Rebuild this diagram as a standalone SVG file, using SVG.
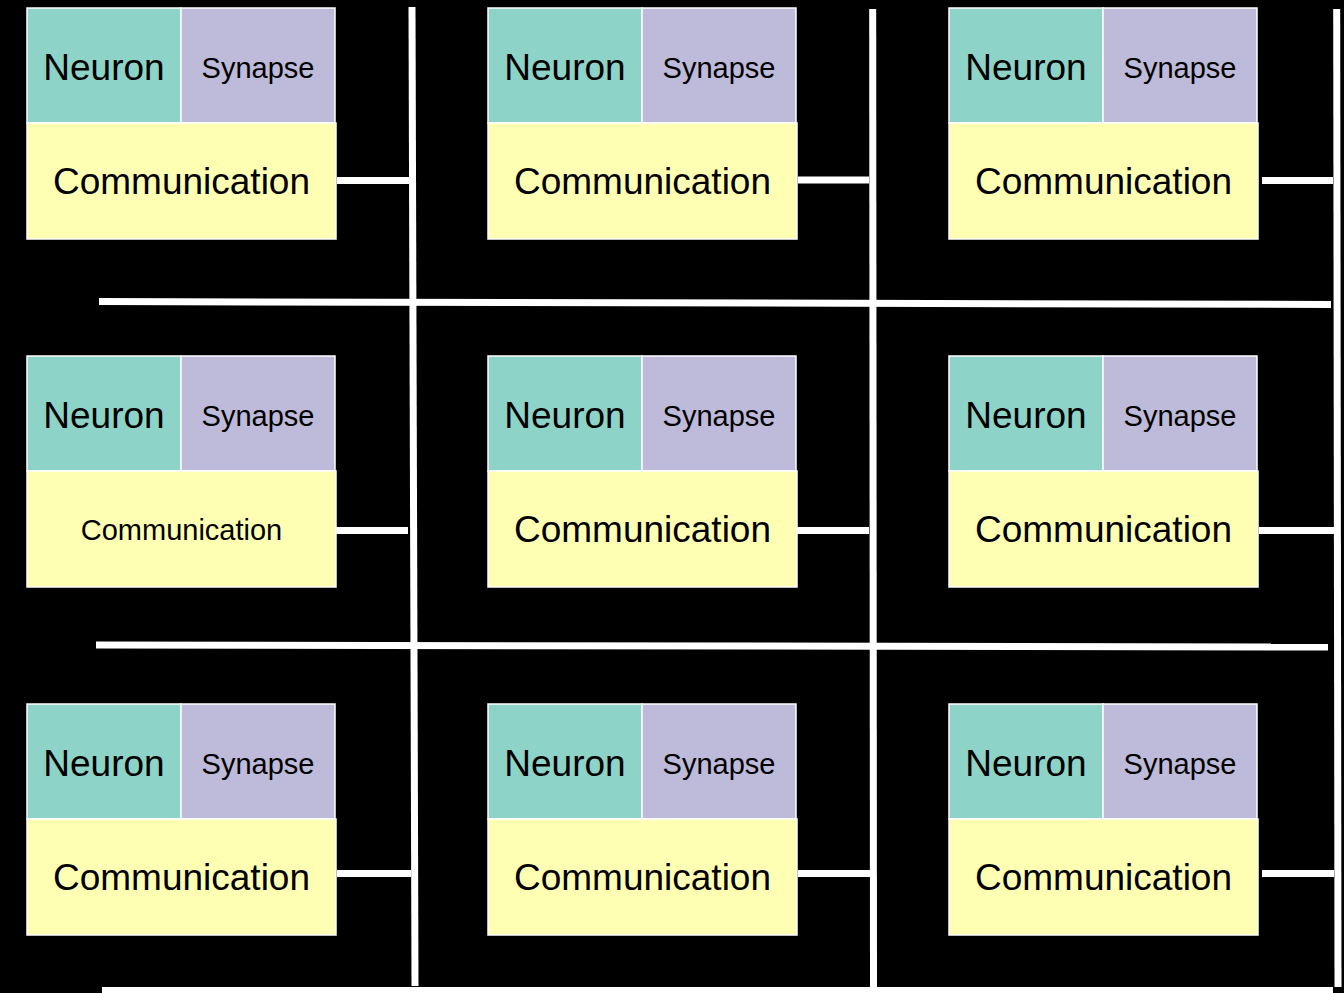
<svg xmlns="http://www.w3.org/2000/svg" width="1344" height="993" viewBox="0 0 1344 993">
  <style>
    .neuron { fill: #8DD3C7; stroke: #ffffff; stroke-width: 1.5; }
    .synapse { fill: #BEBADA; stroke: #ffffff; stroke-width: 1.5; }
    .comm { fill: #FFFFB3; stroke: #ffffff; stroke-width: 1.5; }
    text { font-family: "Liberation Sans", Arial, sans-serif; fill: #000000; text-anchor: middle; }
    .tn { font-size: 37px; }
    .ts { font-size: 29px; }
    .tc { font-size: 37px; }
    .tc-small { font-size: 29px; }
    .wire { stroke: #ffffff; stroke-width: 7; fill: none; stroke-linecap: butt; }
  </style>
  <rect x="0" y="0" width="1344" height="993" fill="#000000"/>

  <!-- bus wires and tile links -->
  <g id="connectors">
    <!-- vertical buses -->
    <line class="wire" x1="412" y1="7" x2="415" y2="986"/>
    <line class="wire" x1="872.7" y1="9" x2="873.5" y2="987"/>
    <line class="wire" x1="1336.7" y1="9" x2="1338" y2="987"/>
    <!-- horizontal buses -->
    <line class="wire" x1="99" y1="301.5" x2="1331" y2="304.5"/>
    <line class="wire" x1="96" y1="645" x2="1328" y2="647"/>
    <line class="wire" x1="102" y1="990.5" x2="1333" y2="990.5"/>
    <!-- tile-to-bus links, row 1 -->
    <line class="wire" x1="337" y1="180.5" x2="409" y2="180.5"/>
    <line class="wire" x1="798" y1="180" x2="869" y2="180"/>
    <line class="wire" x1="1262" y1="180.5" x2="1333" y2="180.5"/>
    <!-- row 2 -->
    <line class="wire" x1="336" y1="530.5" x2="408" y2="530.5"/>
    <line class="wire" x1="797" y1="530.5" x2="869" y2="530.5"/>
    <line class="wire" x1="1259" y1="530.5" x2="1334" y2="530.5"/>
    <!-- row 3 -->
    <line class="wire" x1="337" y1="873.5" x2="411" y2="873.5"/>
    <line class="wire" x1="798" y1="873.5" x2="870" y2="873.5"/>
    <line class="wire" x1="1262" y1="873.5" x2="1334" y2="873.5"/>
  </g>

  <!-- row 1 -->
  <g id="tile-r1-c1" transform="translate(27,8)">
    <rect class="neuron" x="0" y="0" width="154" height="115"/>
    <rect class="synapse" x="154" y="0" width="154" height="115"/>
    <rect class="comm" x="0" y="115" width="309" height="116"/>
    <text class="tn" x="77" y="72">Neuron</text>
    <text class="ts" x="231" y="69.5">Synapse</text>
    <text class="tc" x="154.5" y="186">Communication</text>
  </g>
  <g id="tile-r1-c2" transform="translate(488,8)">
    <rect class="neuron" x="0" y="0" width="154" height="115"/>
    <rect class="synapse" x="154" y="0" width="154" height="115"/>
    <rect class="comm" x="0" y="115" width="309" height="116"/>
    <text class="tn" x="77" y="72">Neuron</text>
    <text class="ts" x="231" y="69.5">Synapse</text>
    <text class="tc" x="154.5" y="186">Communication</text>
  </g>
  <g id="tile-r1-c3" transform="translate(949,8)">
    <rect class="neuron" x="0" y="0" width="154" height="115"/>
    <rect class="synapse" x="154" y="0" width="154" height="115"/>
    <rect class="comm" x="0" y="115" width="309" height="116"/>
    <text class="tn" x="77" y="72">Neuron</text>
    <text class="ts" x="231" y="69.5">Synapse</text>
    <text class="tc" x="154.5" y="186">Communication</text>
  </g>

  <!-- row 2 -->
  <g id="tile-r2-c1" transform="translate(27,356)">
    <rect class="neuron" x="0" y="0" width="154" height="115"/>
    <rect class="synapse" x="154" y="0" width="154" height="115"/>
    <rect class="comm" x="0" y="115" width="309" height="116"/>
    <text class="tn" x="77" y="72">Neuron</text>
    <text class="ts" x="231" y="69.5">Synapse</text>
    <text class="tc-small" x="154.5" y="183.5">Communication</text>
  </g>
  <g id="tile-r2-c2" transform="translate(488,356)">
    <rect class="neuron" x="0" y="0" width="154" height="115"/>
    <rect class="synapse" x="154" y="0" width="154" height="115"/>
    <rect class="comm" x="0" y="115" width="309" height="116"/>
    <text class="tn" x="77" y="72">Neuron</text>
    <text class="ts" x="231" y="69.5">Synapse</text>
    <text class="tc" x="154.5" y="186">Communication</text>
  </g>
  <g id="tile-r2-c3" transform="translate(949,356)">
    <rect class="neuron" x="0" y="0" width="154" height="115"/>
    <rect class="synapse" x="154" y="0" width="154" height="115"/>
    <rect class="comm" x="0" y="115" width="309" height="116"/>
    <text class="tn" x="77" y="72">Neuron</text>
    <text class="ts" x="231" y="69.5">Synapse</text>
    <text class="tc" x="154.5" y="186">Communication</text>
  </g>

  <!-- row 3 -->
  <g id="tile-r3-c1" transform="translate(27,704)">
    <rect class="neuron" x="0" y="0" width="154" height="115"/>
    <rect class="synapse" x="154" y="0" width="154" height="115"/>
    <rect class="comm" x="0" y="115" width="309" height="116"/>
    <text class="tn" x="77" y="72">Neuron</text>
    <text class="ts" x="231" y="69.5">Synapse</text>
    <text class="tc" x="154.5" y="186">Communication</text>
  </g>
  <g id="tile-r3-c2" transform="translate(488,704)">
    <rect class="neuron" x="0" y="0" width="154" height="115"/>
    <rect class="synapse" x="154" y="0" width="154" height="115"/>
    <rect class="comm" x="0" y="115" width="309" height="116"/>
    <text class="tn" x="77" y="72">Neuron</text>
    <text class="ts" x="231" y="69.5">Synapse</text>
    <text class="tc" x="154.5" y="186">Communication</text>
  </g>
  <g id="tile-r3-c3" transform="translate(949,704)">
    <rect class="neuron" x="0" y="0" width="154" height="115"/>
    <rect class="synapse" x="154" y="0" width="154" height="115"/>
    <rect class="comm" x="0" y="115" width="309" height="116"/>
    <text class="tn" x="77" y="72">Neuron</text>
    <text class="ts" x="231" y="69.5">Synapse</text>
    <text class="tc" x="154.5" y="186">Communication</text>
  </g>
</svg>
